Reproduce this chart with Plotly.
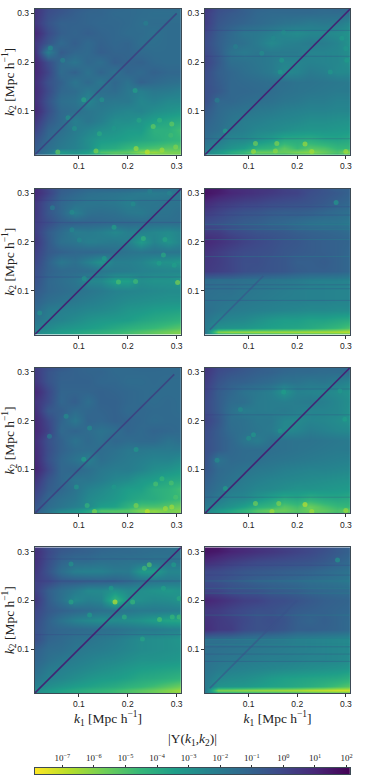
import plotly.graph_objects as go

W, H = 389, 777
k1_grid = [0.01, 0.037, 0.064, 0.091, 0.118, 0.145, 0.173, 0.2, 0.227, 0.254, 0.282, 0.309]
# k2 rows listed from top to bottom, matching the rows in the panel tables
k2_grid = [0.309, 0.30, 0.28, 0.26, 0.24, 0.22, 0.20, 0.18, 0.16, 0.14, 0.12, 0.10, 0.08, 0.06, 0.04, 0.025, 0.015, 0.01]
tick_vals = [0.1, 0.2, 0.3]
cbar_exponents = [-7, -6, -5, -4, -3, -2, -1, 0, 1, 2]
cbar_levels = [-7.87, -7, -6, -5, -4, -3, -2, -1, 0, 1, 2, 2.115]

# log10 |Y(k1,k2)|
panel_1 = [
[.6,-.2,-.5,-.8,-1,-1.1,-1.2,-1.3,-1.4,-1.4,-1.4,-1.4],
[.6,-.3,-.6,-.9,-1.1,-1.1,-1.3,-1.3,-1.4,-1.5,-1.5,-1.5],
[.5,-.5,-1,-1,-1.1,-1.2,-1.2,-1.3,-1.5,-1.4,-1.4,-1.4],
[1,-.2,-.9,-1.1,-.9,-1.1,-1.2,-1.4,-1.4,-1.6,-1.4,-1.4],
[.5,-.6,-1.3,-.9,-1.3,-1,-1.2,-1.1,-1.5,-1.5,-1.4,-1.4],
[.7,-2.2,-.8,-1.2,-1.3,-.9,-1.1,-1.1,-1.3,-1.4,-1.4,-1.4],
[1,-.3,-1.3,-1.8,-1.2,-1.5,-.9,-1.1,-1,-1.3,-1.4,-1.4],
[1,0,-1.4,-1,-1.7,-1.1,-1.6,-1.1,-1.3,-1,-1.2,-1.2],
[.8,-.4,-1,-1.8,-1.3,-1.9,-1.2,-1.7,-1,-1.3,-1.5,-1.6],
[.9,-.2,-1.2,-1.4,-2,-1.5,-1.4,-1.9,-2.2,-1.9,-2,-2.2],
[.8,-.5,-1.5,-1.7,-2.5,-1.8,-1.9,-1.9,-2.5,-2.3,-2.6,-2.6],
[1,-.3,-1.3,-1.5,-1.8,-2,-2.3,-2.5,-2.4,-2.8,-3,-3.2],
[.5,-.7,-1.3,-2.2,-1.8,-2.2,-2.8,-2.8,-3.1,-3.5,-3.8,-4],
[.1,-1.1,-1.5,-2,-2.4,-2.8,-3,-3.3,-3.3,-4.2,-4.2,-4.8],
[-.5,-1.3,-1.8,-2.2,-2.8,-3.3,-3.4,-3.6,-3.8,-4,-4.3,-4.5],
[-.8,-1.5,-2,-2.3,-2.8,-3.8,-4,-4.5,-4.8,-5,-5.2,-5.2],
[-1,-1.8,-3.2,-3,-3.5,-5,-5.2,-5.3,-6,-6.3,-5.8,-5.8],
[-1,-2,-3,-3,-3.5,-4,-5,-4.5,-5,-5.5,-5.8,-5.5]]
panel_2 = [
[.5,-.3,-.5,-.9,-1.1,-1.2,-1.2,-1.2,-1.2,-1.3,-1.2,-1.3],
[.3,-.4,-.7,-.9,-1.2,-1.3,-1.3,-1.3,-1.3,-1.4,-1.4,-1.5],
[.3,-.6,-.9,-1.1,-1.3,-1.5,-1.7,-1.8,-2,-1.9,-2,-2.5],
[0,-.8,-1.3,-1.8,-1.9,-2.2,-2.5,-2.7,-2.5,-2.5,-2.7,-3],
[-.2,-.9,-1.4,-1.6,-2,-2.6,-2.3,-2.2,-2,-2.1,-2.4,-3],
[-.1,-.8,-1.7,-2,-1.8,-2,-2,-2,-2.4,-2.4,-2.5,-2.8],
[.1,-.7,-1.5,-1.6,-1.8,-2,-2.4,-2.4,-2.3,-2.4,-2.5,-2.9],
[-.2,-.9,-1.2,-1.5,-1.7,-2,-2.6,-2.4,-2,-2.2,-2.6,-2.6],
[-.3,-.8,-1.2,-1.3,-1.4,-1.5,-1.5,-1.7,-1.7,-1.8,-1.9,-2],
[-.3,-.7,-1.2,-1.2,-1.3,-1.4,-1.6,-1.7,-1.8,-1.9,-2,-2],
[-.3,-1.2,-1.2,-1.4,-1.5,-1.6,-1.8,-1.9,-2.1,-2.1,-2.3,-2.3],
[-.7,-1.3,-1.6,-1.7,-1.9,-2,-2.2,-2.3,-2.4,-2.4,-2.5,-2.5],
[-1,-1.4,-1.8,-2.1,-2.2,-2.4,-2.5,-2.6,-2.8,-2.8,-2.9,-3],
[-1.2,-1.5,-2,-2.2,-2.5,-2.6,-2.8,-3,-3.1,-3.1,-3.2,-3.3],
[-1.5,-2,-2.5,-2.6,-3,-3.4,-4,-4,-4.1,-3.8,-3.7,-3.9],
[-2,-2.5,-3,-3.4,-4.2,-4.4,-5.3,-4.6,-5.2,-5,-4.5,-4.5],
[-2.5,-3.2,-4,-4.5,-5.5,-5.5,-5.5,-5.8,-6,-5.5,-5,-6],
[-2.5,-3,-3.5,-4,-4.5,-4.5,-4.5,-4.8,-5,-4.8,-4.5,-5]]
panel_3 = [
[.9,0,-.8,-1,-1.2,-1.2,-1.2,-1.3,-1.4,-1.5,-1.6,-1.6],
[.9,.1,-.9,-1.2,-1.5,-1.6,-1.7,-1.8,-2,-2.1,-2,-1.7],
[.5,-.5,-1.2,-1.6,-1.8,-1.8,-1.9,-2.2,-1.8,-1.8,-1.7,-1.7],
[.5,-.6,-1.2,-2.2,-1.6,-1.5,-1.6,-1.9,-2,-1.7,-1.7,-1.5],
[.3,-.3,-.9,-1,-1.1,-1.2,-1.3,-1.3,-1.4,-1.5,-1.5,-1.5],
[.3,-.8,-1.4,-2.1,-2,-2.2,-2.6,-2.2,-2.3,-2.5,-2.7,-2.4],
[.5,-.7,-1.6,-1.8,-2.2,-2.1,-2,-2.2,-3.3,-2.4,-3,-2.4],
[.2,-.7,-1,-1.2,-1.2,-1.3,-1.5,-1.7,-1.8,-1.7,-1.8,-1.8],
[0,-1,-1.9,-1.6,-2.3,-3,-2.2,-2.2,-2.4,-2.9,-3,-3.2],
[-.3,-1,-1.3,-1.4,-1.5,-1.8,-2,-2.1,-2.3,-2.4,-2.5,-2.5],
[-.4,-1.2,-1.5,-1.8,-2.5,-2.6,-3.5,-3.5,-2.8,-3,-3,-3.3],
[-.7,-1.2,-1.4,-1.6,-1.8,-2,-2.3,-2.4,-2.5,-2.6,-2.7,-2.7],
[-1,-1.5,-1.7,-1.9,-2.1,-2.3,-2.5,-2.7,-2.8,-2.9,-3,-3],
[-1.3,-2,-2.2,-2.3,-2.5,-2.6,-2.8,-3.1,-3.2,-3.4,-3.5,-3.6],
[-1.7,-2.2,-2.4,-2.7,-3,-3.2,-3.3,-3.4,-3.7,-3.9,-4.1,-4.3],
[-2.2,-2.6,-3,-3.2,-3.4,-3.6,-3.9,-4.2,-4.4,-4.6,-4.9,-5.2],
[-2.6,-3,-3.4,-3.7,-4,-4.2,-4.5,-4.8,-5.1,-5.4,-5.7,-6],
[-2.5,-3,-3.3,-3.6,-3.9,-4.1,-4.4,-4.7,-5,-5.2,-5.5,-5.7]]
panel_4 = [
[1.5,1.4,.9,.8,.6,.5,.2,0,-.2,-.5,-.9,-1],
[1.6,1.3,1,.8,.6,.4,.2,.1,-.3,-.5,-.7,-1],
[.9,.5,.3,.1,0,-.2,-.3,-.4,-.5,-.7,-1,-1.2],
[.3,0,-.3,-.5,-.6,-.8,-.9,-.9,-1,-1.2,-1.4,-1.6],
[-.2,-.4,-.6,-.8,-.9,-1.1,-1.2,-1.4,-1.6,-1.7,-1.7,-1.9],
[.4,.3,-.1,-.3,-.5,-.6,-.7,-.9,-1,-1.1,-1.2,-1.4],
[1,.7,.4,.1,-.1,-.3,-.5,-.6,-.8,-.9,-1,-1.1],
[.6,.3,0,-.2,-.3,-.4,-.6,-.7,-.8,-.9,-1,-1.2],
[.5,.3,0,-.3,-.3,-.5,-.6,-.9,-.9,-.8,-1,-1.2],
[.4,.2,0,-.3,-.4,-.5,-.6,-.8,-.9,-.9,-1,-1.2],
[-1.4,-1.5,-1.5,-1.6,-1.7,-1.8,-1.9,-2,-2.2,-2.3,-2.3,-2.4],
[-1.5,-1.6,-1.6,-1.8,-1.9,-2,-2.1,-2.2,-2.3,-2.3,-2.4,-2.4],
[-1.6,-1.7,-1.8,-1.9,-2,-2.1,-2.2,-2.2,-2.3,-2.3,-2.4,-2.4],
[-1.5,-1.8,-2,-2.1,-2.2,-2.3,-2.4,-2.5,-2.6,-2.6,-2.7,-2.7],
[-1.8,-2.3,-2.5,-2.6,-2.9,-3.2,-3.4,-3.4,-3.6,-3.6,-3.8,-4],
[-2,-2.9,-3,-3.1,-3.3,-3.5,-3.6,-3.7,-3.9,-4.2,-4.5,-5],
[-1.8,-6,-6.3,-6.3,-6.4,-6.4,-6.5,-6.5,-6.6,-6.6,-6.7,-6.9],
[-2,-3.6,-3.7,-3.8,-3.9,-4,-4.1,-4.2,-4.3,-4.4,-4.5,-4.6]]
panel_5 = [
[.3,-.3,-.7,-1,-1.1,-1.2,-1.3,-1.3,-1.2,-1.2,-1.3,-1.3],
[.4,-.5,-.9,-1,-1.1,-1.1,-1.3,-1.3,-1.3,-1.3,-1.3,-1.3],
[.5,-.5,-1,-1,-1,-1.2,-1.2,-1.4,-1.4,-1.3,-1.4,-1.4],
[1,-.1,-1.1,-1.1,-1.1,-1,-1.1,-1.2,-1.3,-1.4,-1.4,-1.4],
[.6,-.2,-1.2,-.9,-1.5,-1,-1,-1.2,-1.3,-1.4,-1.3,-1.4],
[.8,-.7,-.9,-1.4,-1.2,-1.1,-1,-1.3,-1.2,-1.3,-1.3,-1.4],
[1,-.1,-1.1,-1.9,-1.1,-1.2,-1,-1.1,-1.2,-1.4,-1.3,-1.3],
[1,.1,-1.3,-1.1,-1.4,-1.7,-1.5,-1.1,-1.3,-1.1,-1.2,-1.3],
[.8,-.4,-1,-1.7,-1.3,-1.6,-1.2,-1.4,-1.3,-1.3,-1.7,-1.5],
[.9,-.3,-1,-1.4,-1.5,-1.4,-1.6,-1.9,-1.9,-2,-2,-2],
[1,-.4,-1.2,-1.7,-2.2,-1.5,-1.8,-2,-2.2,-2.4,-2.4,-2.7],
[1.1,-.1,-1.2,-1.2,-1.5,-1.9,-2.1,-2.1,-2.4,-2.8,-3,-3.3],
[.6,-.6,-1.2,-1.8,-1.8,-2.1,-2.5,-2.7,-3.2,-3.4,-3.8,-3.9],
[.2,-.8,-1.2,-1.7,-2.3,-2.6,-3,-3.4,-3.5,-4.1,-4.3,-4.8],
[-.2,-1.2,-1.6,-1.9,-2.6,-2.9,-3.2,-3.6,-3.9,-4,-4.4,-4.6],
[-.6,-1.4,-1.8,-2.2,-2.6,-3.4,-3.6,-4.3,-5,-5,-5.2,-5.6],
[-.8,-1.7,-2.5,-3,-3.8,-5.2,-5.2,-5.3,-6,-6.2,-5.8,-6],
[-.9,-1.8,-3,-3,-3.8,-4.2,-4.8,-4.6,-5.2,-5.8,-5.6,-5.8]]
panel_6 = [
[.6,-.1,-.3,-.6,-.8,-1,-1.1,-1.2,-1.2,-1.3,-1.3,-1.3],
[.5,-.2,-.5,-.7,-.9,-1,-1.2,-1.3,-1.3,-1.4,-1.4,-1.4],
[.3,-.5,-.9,-1,-1.2,-1.4,-1.7,-1.7,-1.9,-1.8,-2.1,-2.4],
[.1,-.8,-1.2,-1.7,-1.9,-2.2,-3,-2.3,-2.4,-2.5,-2.7,-3],
[-.1,-.8,-1.4,-1.5,-2,-2.1,-2.2,-2.1,-2,-2.2,-2.5,-2.8],
[-.1,-.8,-1.6,-2.1,-2,-2.1,-2,-2.2,-2.4,-2.4,-2.5,-2.9],
[.1,-.6,-1.5,-1.6,-1.9,-1.9,-2.5,-2.6,-2.4,-2.5,-2.7,-3],
[-.2,-.8,-1.4,-1.6,-1.8,-2,-2.6,-2.4,-2.1,-2.3,-2.5,-2.6],
[-.3,-.8,-1.2,-1.8,-2.1,-1.6,-1.6,-1.7,-1.7,-1.8,-1.9,-2],
[-.3,-.8,-1.2,-1.4,-1.4,-1.5,-1.6,-1.7,-1.8,-1.9,-2,-2],
[-.4,-1.7,-1.3,-1.4,-1.5,-1.7,-1.8,-1.9,-2,-2.1,-2.2,-2.3],
[-.6,-1.3,-1.5,-1.7,-1.9,-2,-2.2,-2.3,-2.4,-2.4,-2.5,-2.6],
[-.9,-1.4,-1.7,-2,-2.2,-2.4,-2.5,-2.6,-2.7,-2.8,-2.9,-3],
[-1.1,-1.6,-2,-2.2,-2.5,-2.6,-2.8,-3,-3,-3.1,-3.2,-3.3],
[-1.5,-2,-2.5,-2.6,-3.1,-3.6,-4,-3.8,-4.2,-3.9,-3.8,-4],
[-2,-2.6,-3,-3.5,-4.2,-4.5,-5.2,-4.8,-5.6,-5,-4.6,-4.5],
[-2.5,-3.2,-3.8,-4.4,-5.2,-5.6,-5.6,-5.2,-5.6,-5.4,-5,-5.6],
[-2.5,-3,-3.6,-4,-4.6,-4.8,-4.8,-4.8,-5.2,-4.8,-4.6,-5]]
panel_7 = [
[.5,-.3,-.6,-.8,-1,-1.1,-1.2,-1.3,-1.4,-1.4,-1.5,-1.6],
[.8,-.1,-.7,-.9,-1,-1.2,-1.3,-1.3,-1.4,-1.5,-1.5,-1.7],
[.7,-.3,-1.1,-1.4,-1.4,-1.6,-1.6,-1.7,-1.7,-1.8,-1.8,-1.8],
[.5,-.5,-1.5,-2.2,-2.3,-2.3,-2,-2,-3.2,-3.4,-2.5,-2.5],
[.2,-.1,-.7,-.8,-.9,-1,-1,-1.3,-1.6,-1.8,-1.9,-2],
[.2,-.9,-1.5,-2,-2.6,-2.6,-3,-2.6,-2.8,-3,-3.2,-3],
[.5,-.8,-1.6,-2.6,-2.2,-2.4,-4.5,-3,-2.8,-2.6,-2.7,-3],
[0,-.7,-1,-1.2,-1.4,-1.6,-1.7,-1.8,-2,-2,-2.1,-2.2],
[-.2,-1,-1.7,-2.3,-2.6,-2.8,-2.7,-2.8,-3,-3.4,-3.7,-3.8],
[-.4,-1,-1.2,-1.3,-1.4,-1.5,-1.6,-1.8,-2,-2,-2.2,-2.3],
[-.3,-1.1,-1.3,-1.6,-1.7,-1.9,-2.1,-2.4,-2.7,-2.8,-2.9,-3.1],
[-.9,-1.4,-1.5,-1.8,-2,-2.1,-2.3,-2.5,-2.7,-2.8,-2.9,-3],
[-1.1,-1.6,-1.9,-2.1,-2.3,-2.5,-2.6,-2.8,-3,-3,-3.1,-3.2],
[-1.4,-2,-2.2,-2.4,-2.6,-2.8,-3,-3.2,-3.4,-3.5,-3.6,-3.7],
[-1.8,-2.3,-2.5,-2.8,-3.1,-3.3,-3.4,-3.6,-3.9,-4,-4.2,-4.4],
[-2.3,-2.8,-3.1,-3.4,-3.6,-3.8,-4,-4.3,-4.5,-4.8,-5.2,-5.6],
[-2.8,-3.2,-3.6,-3.9,-4.2,-4.4,-4.7,-5,-5.3,-5.6,-6,-6.4],
[-2.7,-3.2,-3.5,-3.8,-4.1,-4.3,-4.6,-4.9,-5.2,-5.5,-5.8,-6.1]]
panel_8 = [
[1.6,1.5,1,.9,.6,.5,.2,.1,-.1,-.3,-.7,-1],
[1.6,1.4,1.1,.9,.7,.5,.3,.1,-.1,-.4,-.7,-1],
[.9,.6,.3,.1,-.1,-.2,-.3,-.4,-.5,-.7,-1,-1.3],
[-.1,-.2,-.4,-.6,-.7,-.8,-.9,-1,-1.1,-1.3,-1.5,-1.7],
[-.2,-.4,-.6,-.8,-1,-1.1,-1.2,-1.3,-1.5,-1.6,-1.7,-1.9],
[.1,0,-.3,-.4,-.5,-.7,-.8,-.9,-1.1,-1.2,-1.3,-1.4],
[1.1,.8,.5,.2,.1,-.2,-.3,-.5,-.7,-.9,-1,-1.1],
[.4,.3,0,-.2,-.4,-.4,-.6,-.8,-.9,-1,-1.1,-1.2],
[.7,.4,.2,-.1,-.4,-.3,-.5,-.9,-1.1,-.9,-1.1,-1.3],
[.8,.4,.3,-.2,-.4,-.4,-.6,-.9,-.9,-1,-1.1,-1.3],
[-1.5,-1.5,-1.6,-1.7,-1.8,-1.9,-2,-2.2,-2.3,-2.4,-2.5,-2.6],
[-1.5,-1.6,-1.7,-1.8,-1.9,-2,-2.1,-2.2,-2.3,-2.4,-2.5,-2.6],
[-1.6,-1.8,-1.9,-2,-2.1,-2.2,-2.2,-2.3,-2.4,-2.4,-2.5,-2.7],
[-1.7,-2,-2.2,-2.3,-2.4,-2.5,-2.6,-2.7,-2.8,-2.9,-3,-3.2],
[-1.9,-2.5,-2.7,-2.8,-3,-3.3,-3.5,-3.6,-3.7,-3.8,-3.9,-4.2],
[-2,-3,-3.1,-3.2,-3.4,-3.6,-3.7,-3.9,-4.1,-4.4,-4.8,-5.2],
[-1.8,-5.9,-6,-6.2,-6.3,-6.4,-6.5,-6.6,-6.9,-7,-7.2,-7.2],
[-2,-3.6,-3.8,-3.9,-4,-4.1,-4.2,-4.4,-4.5,-4.7,-4.8,-5]]
panels = [panel_1, panel_2, panel_3, panel_4, panel_5, panel_6, panel_7, panel_8]

# small bright peaks: k1, k2, log10 |Y|
spots_1 = [[.042,.229,-2.7],[.11,.123,-3.8],[.215,.142,-3.6],[.147,.123,-3],[.057,.016,-5.5],[.135,.018,-6],
           [.252,.068,-5.5],[.29,.073,-5.5],[.265,.081,-4.5],[.142,.053,-4],[.24,.016,-7],[.217,.023,-6.5],
           [.27,.02,-6.5],[.298,.026,-6],[.078,.086,-3],[.091,.064,-3],[.172,.064,-3.2],[.223,.081,-3.8],
           [.288,.05,-4.8],[.067,.204,-2.4],[.237,.28,-2.2]]
spots_2 = [[.172,.261,-2.7],[.151,.249,-2.6],[.292,.249,-3.3],[.114,.033,-5.8],[.158,.033,-6],[.216,.032,-6.5],
           [.23,.017,-6.5],[.11,.017,-6.5],[.155,.018,-6.2],[.3,.017,-6.5],[.165,.18,-3.2],[.035,.122,-2.2],
           [.052,.059,-3.5],[.073,.232,-2.2],[.127,.218,-2.8],[.302,.204,-3.4],[.3,.228,-3.2],[.268,.18,-3.2],
           [.168,.204,-3.2]]
spots_3 = [[.302,.117,-6],[.181,.118,-5],[.216,.119,-4.8],[.232,.207,-4.4],[.276,.205,-3.8],[.273,.173,-4],
           [.172,.23,-3.6],[.152,.166,-3.4],[.086,.261,-2.8],[.211,.278,-2.8],[.086,.225,-2.6],[.101,.204,-2.6],
           [.264,.156,-3.5],[.295,.152,-3.5],[.111,.125,-3],[.02,.054,-3],[.285,.3,-2.4],[.245,.304,-2.3],
           [.046,.27,-2.2]]
spots_4 = [[.28,.281,-3.3]]
spots_5 = [[.11,.121,-3.5],[.122,.185,-2.8],[.074,.209,-2.8],[.095,.064,-3.2],[.117,.026,-4.5],[.132,.014,-6],
           [.24,.014,-7],[.277,.02,-6.5],[.29,.023,-6.5],[.217,.026,-6],[.257,.07,-5],[.289,.072,-5],
           [.27,.081,-4.6],[.217,.141,-3.2],[.172,.064,-3.2],[.04,.168,-2.2],[.298,.043,-5]]
spots_6 = [[.172,.259,-3.4],[.216,.028,-7],[.162,.03,-6],[.114,.03,-5.8],[.148,.014,-6.5],[.23,.014,-6.5],
           [.3,.016,-6.4],[.11,.171,-3.2],[.1,.164,-2.9],[.165,.179,-3],[.035,.119,-2.8],[.052,.061,-3.5],
           [.298,.203,-3.5],[.083,.223,-2.8],[.288,.261,-3.2]]
spots_7 = [[.174,.197,-7],[.244,.273,-5.2],[.234,.266,-4.8],[.265,.161,-5],[.291,.166,-4.6],[.305,.166,-4.8],
           [.193,.166,-4.2],[.23,.121,-3.8],[.084,.197,-3.8],[.21,.197,-4.6],[.273,.225,-3.6],[.166,.225,-3.4],
           [.294,.273,-3.4],[.122,.17,-3.4],[.084,.275,-3],[.305,.204,-4]]
spots_8 = [[.283,.283,-3.2]]
spots = [spots_1, spots_2, spots_3, spots_4, spots_5, spots_6, spots_7, spots_8]

# thin horizontal stripes: k2 positions that are darker / lighter than their surroundings
dark_stripes = [[], [.265,.212,.043], [.285,.24,.128], [.272,.255,.112,.104,.08],
                [], [.265,.212,.043], [.285,.24,.13], [.272,.252,.105,.09,.075]]
light_stripes = [[], [], [], [.236,.226,.205,.17,.122],
                 [], [], [], [.24,.225,.215,.17,.12,.11]]

# the k1 = k2 ridge in each panel: stretch of k and line colour
diag_spans = [[0.01, 0.30], [0.01, 0.309], [0.01, 0.309], [0.02, 0.13],
              [0.01, 0.295], [0.01, 0.309], [0.01, 0.309], [0.02, 0.2]]
diag_colors = ["rgba(68,40,120,0.55)", "rgba(72,20,110,0.85)", "rgba(72,20,110,0.85)", "rgba(58,82,139,0.6)",
               "rgba(68,40,120,0.55)", "rgba(72,20,110,0.85)", "rgba(72,20,110,0.85)", "rgba(58,82,139,0.6)"]

x_dom = [(35, 182), (206, 352)]
y_dom = [(8, 154), (188, 334), (367, 513), (547, 693)]
ZMIN, ZMAX = -7.87, 2.115
TICKFONT = dict(family="Liberation Sans, Arial", size=8.5, color="#222")
TITLEFONT = dict(family="Liberation Serif, DejaVu Serif", size=13.5, color="#222")
K2_ASC = k2_grid[::-1]
FRAME = dict(showline=True, mirror=True, linecolor="#3c4a55", linewidth=1, showgrid=False, zeroline=False)

fig = go.Figure()
for i, z in enumerate(panels):
    r, c = i // 2, i % 2
    ax = "" if i == 0 else str(i + 1)
    axes = dict(xaxis="x" + ax, yaxis="y" + ax, hoverinfo="skip", showlegend=False)
    fig.add_trace(go.Heatmap(x=k1_grid, y=K2_ASC, z=z[::-1], zmin=ZMIN, zmax=ZMAX,
                             colorscale="Viridis_r", zsmooth="best", showscale=False,
                             xaxis=axes["xaxis"], yaxis=axes["yaxis"], hoverinfo="skip"))
    for stripes, colour in ((dark_stripes[i], "rgba(62,50,130,0.22)"), (light_stripes[i], "rgba(38,140,140,0.3)")):
        for k in stripes:
            fig.add_trace(go.Scatter(x=[k1_grid[0], k1_grid[-1]], y=[k, k], mode="lines",
                                     line=dict(color=colour, width=1), **axes))
    fig.add_trace(go.Scatter(
        x=[s[0] for s in spots[i]], y=[s[1] for s in spots[i]], mode="markers",
        marker=dict(size=5, color=[s[2] for s in spots[i]], colorscale="Viridis_r", cmin=ZMIN, cmax=ZMAX,
                    opacity=0.65, line=dict(width=0)), **axes))
    fig.add_trace(go.Scatter(x=diag_spans[i], y=diag_spans[i], mode="lines",
                             line=dict(color=diag_colors[i], width=1.6), **axes))
    xa = dict(domain=[x_dom[c][0] / W, x_dom[c][1] / W], range=[0.01, 0.309], anchor="y" + ax,
              tickvals=tick_vals, ticktext=[str(v) for v in tick_vals], tickfont=TICKFONT,
              ticks="outside", ticklen=3, tickcolor="#333", **FRAME)
    ya = dict(domain=[1 - y_dom[r][1] / H, 1 - y_dom[r][0] / H], range=[0.01, 0.309], anchor="x" + ax,
              tickvals=tick_vals, ticktext=[str(v) for v in tick_vals], tickfont=TICKFONT,
              ticks="outside", ticklen=3, tickcolor="#333", **FRAME)
    if r == 3:
        xa["title"] = dict(text="<i>k</i><sub>1</sub> [Mpc h<sup>−1</sup>]", font=TITLEFONT, standoff=4)
    if c == 0:
        ya["title"] = dict(text="<i>k</i><sub>2</sub> [Mpc h<sup>−1</sup>]", font=TITLEFONT, standoff=3)
    fig.update_layout({("xaxis" + ax): xa, ("yaxis" + ax): ya})

# colour key: a strip on its own axis so that its labels sit above it
fig.add_trace(go.Heatmap(x=cbar_levels, y=[0, 1], z=[cbar_levels, cbar_levels], zmin=ZMIN, zmax=ZMAX,
                         colorscale="Viridis_r", zsmooth="best", showscale=False,
                         xaxis="x9", yaxis="y9", hoverinfo="skip"))
fig.update_layout(
    xaxis9=dict(domain=[35 / W, 352 / W], range=[ZMIN, ZMAX], anchor="y9", side="top",
                tickvals=cbar_exponents, ticks="outside", ticklen=2, tickcolor="#333",
                ticktext=[f"10<sup>{str(e).replace('-', '−')}</sup>" for e in cbar_exponents],
                tickfont=dict(family="Liberation Serif", size=9, color="#222"), **FRAME),
    yaxis9=dict(domain=[1 - 774 / H, 1 - 768 / H], range=[0, 1], anchor="x9",
                showticklabels=False, ticks="", **FRAME),
)
fig.add_annotation(
    text="|Y(<i>k</i><sub>1</sub>,<i>k</i><sub>2</sub>)|", xref="paper", yref="paper",
    x=193.5 / W, y=1 - 739 / H, yanchor="middle", showarrow=False, font=TITLEFONT,
)
fig.update_layout(
    width=W, height=H, margin=dict(l=0, r=0, t=0, b=0), autosize=False,
    paper_bgcolor="white", plot_bgcolor="white", showlegend=False,
)
fig.write_html("out.html", config={"displayModeBar": False, "responsive": False},
               post_script="document.body.style.margin='0';document.body.style.overflow='hidden';")
